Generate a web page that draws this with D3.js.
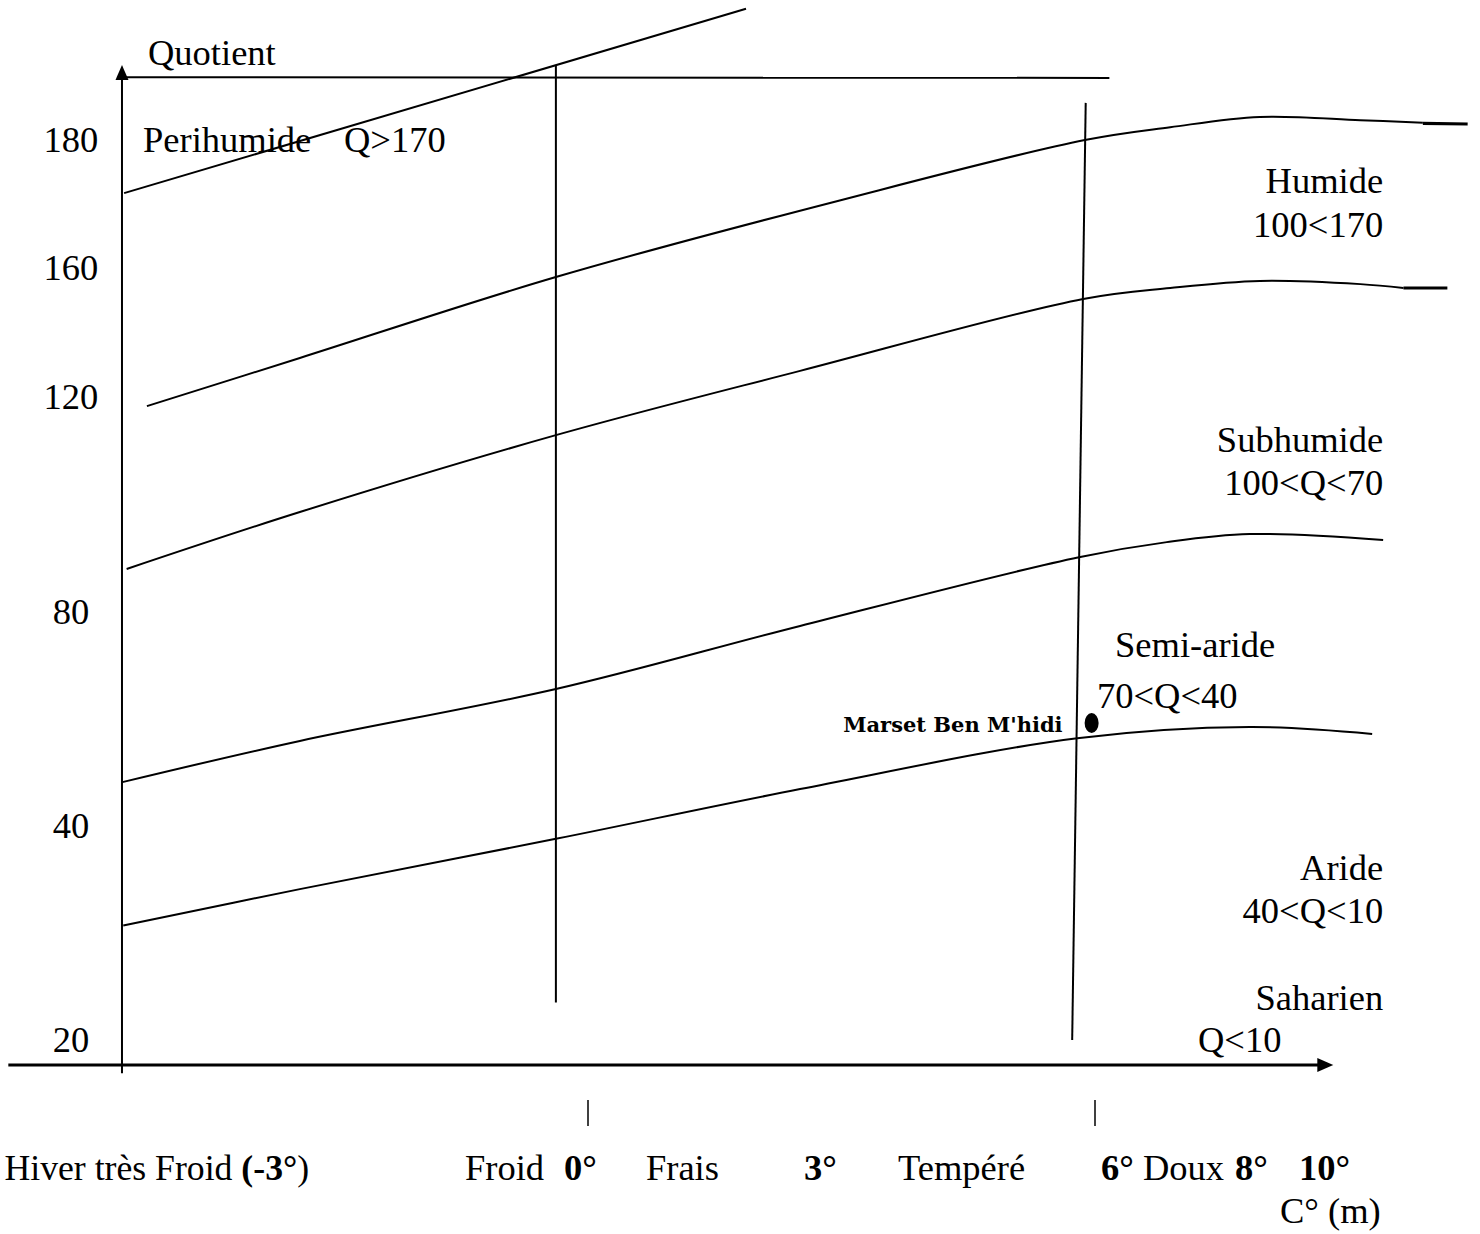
<!DOCTYPE html>
<html><head><meta charset="utf-8">
<script src="https://cdn.jsdelivr.net/npm/d3@7"></script>
<style>body{margin:0;background:#fff} svg{display:block}</style>
</head><body><svg id="chart" width="1480" height="1234"></svg>
<script>
// ---------- data (m = mean minimum temperature °C, q = Emberger quotient Q2) ----------
const yTickValues = [20, 40, 80, 120, 160, 180];
const xTickValues = [0, 6];

// bioclimatic boundary curves
const limitHumideM    = [-5.22, -3.41, -0.38, 2.99, 5.88, 6.89, 7.95, 9.14, 9.88];
const limitHumideQ    = [118.3, 132.1, 157.2, 170.6, 180.0, 182.0, 183.6, 183.1, 182.7];
const limitSubhumideM = [-5.46, -3.41, -0.38, 2.51, 5.86, 6.89, 7.95, 9.14, 9.65];
const limitSubhumideQ = [88.0, 98.6, 112.9, 128.1, 150.4, 153.8, 156.0, 155.0, 153.8];
const limitSemiarideM = [-5.51, -3.41, -0.38, 2.51, 5.81, 6.85, 7.83, 9.41];
const limitSemiarideQ = [48.2, 55.9, 65.6, 77.4, 90.2, 93.0, 94.5, 93.4];
const limitArideM     = [-5.50, -3.41, -0.38, 2.51, 5.79, 7.83, 9.28];
const limitArideQ     = [30.7, 34.1, 38.8, 46.9, 56.4, 58.5, 57.2];

// short heavy end strokes of the two upper curves
const tailHumideM = [9.88, 10.41];
const tailHumideQ = [182.6, 182.5];
const tailSubhumideM = [9.65, 10.17];
const tailSubhumideQ = [153.8, 153.8];

// straight guide lines
const perihumideM = [-5.49, 1.87];
const perihumideQ = [171.7, 200.5];
const topLineM = [-5.515, 6.17];
const topLineQ = [189.8, 189.7];
const vertical0M = [-0.38, -0.38];
const vertical0Q = [191.6, 23.5];
const vertical6M = [5.89, 5.73];
const vertical6Q = [185.8, 20.0];

// axes extents
const axisOriginM = -5.515;
const axisOriginQ = 17.66;
const xAxisStartM = -6.86;
const xAxisEndM = 8.82;
const yAxisBottomQ = 16.9;
const yAxisTopQ = 191.7;

// station
const stationName = ["Marset Ben M'hidi"];
const stationM = [5.96];
const stationQ = [59.25];

// zone labels
const zoneText = ["Quotient", "Perihumide", "Q>170", "Humide", "100<170", "Subhumide", "100<Q<70",
                  "Semi-aride", "70<Q<40", "Aride", "40<Q<10", "Saharien", "Q<10"];
const zoneM    = [-5.207, -5.266, -2.888, 9.41, 9.41, 9.41, 9.41, 6.237, 6.024, 9.41, 9.41, 9.41, 7.219];
const zoneQ    = [191.7, 178.1, 178.1, 171.7, 164.8, 109.8, 101.8, 71.6, 62.1, 34.95, 30.9, 22.8, 18.88];
const zoneAnchor = ["start", "start", "start", "end", "end", "end", "end", "start", "start", "end", "end", "end", "start"];

// winter variant labels under the x axis
const winterText = ["Hiver très Froid |(-3°|)", "Froid", "|0°", "Frais", "|3°", "Tempéré", "|6°", "Doux", "|8°", "|10°"];
const winterM    = [-3.30, -1.456, -0.284, 0.686, 2.556, 3.669, 6.071, 6.568, 7.657, 8.414];
const winterAnchor = ["end", "start", "start", "start", "start", "start", "start", "start", "start", "start"];
const xAxisTitle = "C° (m)";
const xAxisTitleM = 8.189;

// ---------- drawing ----------
const svg = d3.select("#chart");
const x = d3.scaleLinear().domain([0, 6]).range([588, 1095]);
const y = d3.scaleLinear().domain(yTickValues).range([1040, 826, 612, 397, 268, 140]);

const FONT = "'Liberation Serif','Times New Roman',serif";
const FS = 36.5;
const zip = (ms, qs) => ms.map((m, i) => ({m, q: qs[i]}));
const smooth = d3.line().x(d => x(d.m)).y(d => y(d.q)).curve(d3.curveCatmullRom.alpha(0.5));
const straight = d3.line().x(d => x(d.m)).y(d => y(d.q));

const g = svg.append("g").attr("fill", "none").attr("stroke", "#000");

// straight guide lines
[[perihumideM, perihumideQ], [topLineM, topLineQ], [vertical0M, vertical0Q], [vertical6M, vertical6Q]]
  .forEach(([ms, qs]) => g.append("path").attr("d", straight(zip(ms, qs))).attr("stroke-width", 2));

// curves
[[limitHumideM, limitHumideQ], [limitSubhumideM, limitSubhumideQ],
 [limitSemiarideM, limitSemiarideQ], [limitArideM, limitArideQ]]
  .forEach(([ms, qs]) => g.append("path").attr("d", smooth(zip(ms, qs))).attr("stroke-width", 2));

[[tailHumideM, tailHumideQ], [tailSubhumideM, tailSubhumideQ]]
  .forEach(([ms, qs]) => g.append("path").attr("d", straight(zip(ms, qs))).attr("stroke-width", 3.2));

// axes
const ox = x(axisOriginM), oy = y(axisOriginQ);
g.append("line").attr("x1", x(xAxisStartM)).attr("x2", x(xAxisEndM) - 12).attr("y1", oy).attr("y2", oy).attr("stroke-width", 3);
g.append("line").attr("x1", ox).attr("x2", ox).attr("y1", y(yAxisBottomQ)).attr("y2", y(yAxisTopQ) + 10).attr("stroke-width", 2);
svg.append("path")
  .attr("d", `M${x(xAxisEndM)},${oy} L${x(xAxisEndM) - 16},${oy - 7} L${x(xAxisEndM) - 16},${oy + 7} Z`)
  .attr("fill", "#000");
svg.append("path")
  .attr("d", `M${ox},${y(yAxisTopQ)} L${ox - 6.5},${y(yAxisTopQ) + 15} L${ox + 6.5},${y(yAxisTopQ) + 15} Z`)
  .attr("fill", "#000");

// tick marks under the x axis
g.selectAll("line.xt").data(xTickValues).join("line")
  .attr("class", "xt")
  .attr("x1", d => x(d)).attr("x2", d => x(d))
  .attr("y1", oy + 35).attr("y2", oy + 61).attr("stroke-width", 1.5);

// y tick labels
svg.selectAll("text.yt").data(yTickValues).join("text")
  .attr("class", "yt")
  .attr("x", ox - 51).attr("y", d => y(d) + 12)
  .attr("text-anchor", "middle")
  .attr("font-family", FONT).attr("font-size", FS)
  .text(d => d);

// zone labels
svg.selectAll("text.zone").data(zoneText).join("text")
  .attr("class", "zone")
  .attr("x", (d, i) => x(zoneM[i])).attr("y", (d, i) => y(zoneQ[i]))
  .attr("text-anchor", (d, i) => zoneAnchor[i])
  .attr("font-family", FONT).attr("font-size", FS)
  .text(d => d);

// winter labels (segments after "|" toggle bold)
const wl = svg.selectAll("text.winter").data(winterText).join("text")
  .attr("class", "winter")
  .attr("x", (d, i) => x(winterM[i])).attr("y", oy + 115)
  .attr("text-anchor", (d, i) => winterAnchor[i])
  .attr("font-family", FONT).attr("font-size", FS);
wl.each(function(d, i) {
  const parts = d.split("|");
  const t = d3.select(this);
  if (i === 0) t.attr("font-size", FS - 0.8);
  parts.forEach((p, k) => { if (p) t.append("tspan").attr("font-weight", k % 2 ? "bold" : "normal").text(p); });
});
svg.append("text")
  .attr("x", x(xAxisTitleM)).attr("y", oy + 158)
  .attr("font-family", FONT).attr("font-size", FS)
  .text(xAxisTitle);

// station
const st = svg.selectAll("g.station").data(stationName).join("g").attr("class", "station");
st.append("ellipse")
  .attr("cx", (d, i) => x(stationM[i])).attr("cy", (d, i) => y(stationQ[i]))
  .attr("rx", 7).attr("ry", 10).attr("fill", "#000");
st.append("text")
  .attr("x", (d, i) => x(stationM[i]) - 29).attr("y", (d, i) => y(stationQ[i]) + 9)
  .attr("text-anchor", "end")
  .attr("font-family", "'DejaVu Serif',serif").attr("font-weight", "bold").attr("font-size", 21)
  .text(d => d);
</script></body></html>
